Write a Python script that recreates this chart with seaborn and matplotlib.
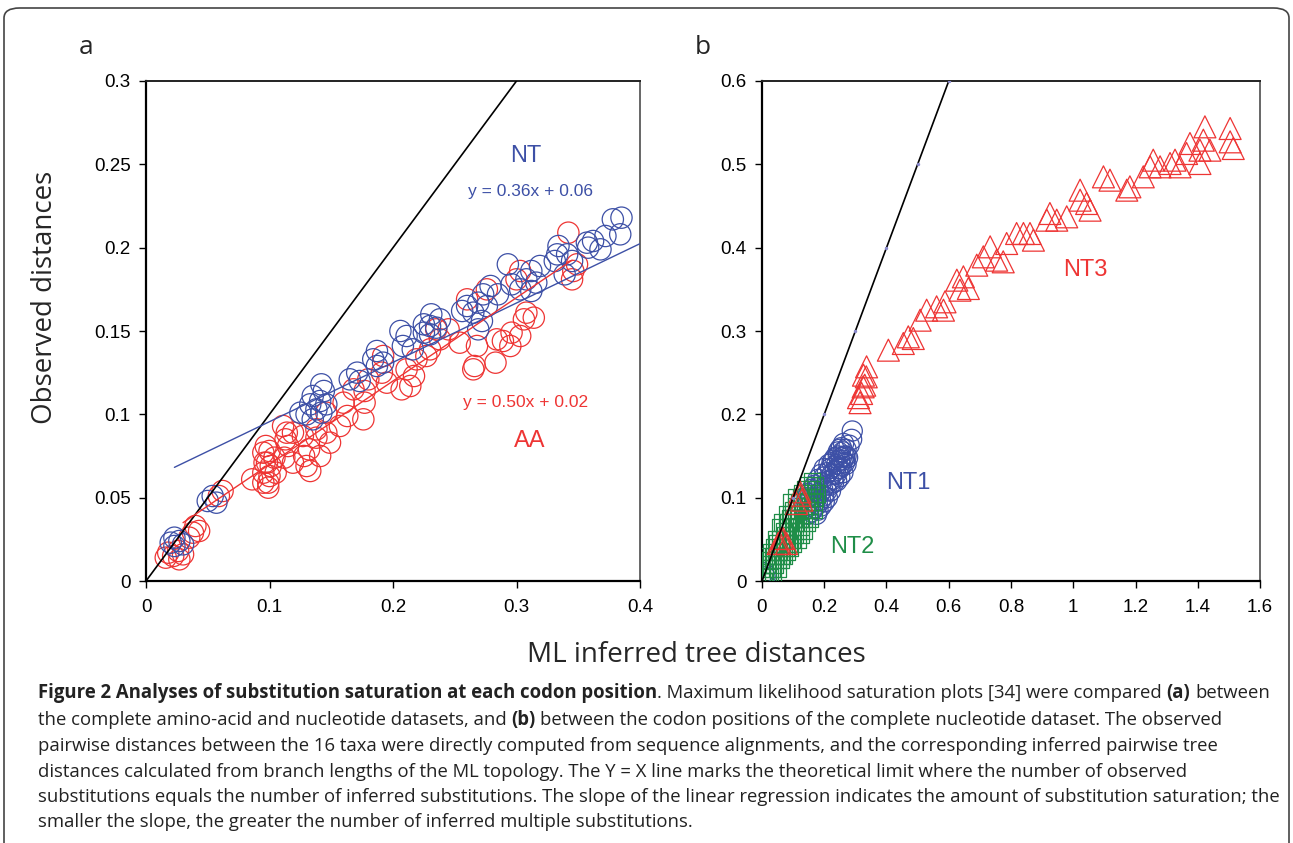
import numpy as np
import pandas as pd
import matplotlib
matplotlib.use("Agg")
import matplotlib.pyplot as plt
import seaborn as sns
from matplotlib import font_manager
from matplotlib.patches import FancyBboxPatch
from matplotlib.ticker import FuncFormatter, MultipleLocator

# ---- panel a: amino-acid vs nucleotide ----
nt_x = [0.385, 0.384, 0.372, 0.362, 0.358, 0.368, 0.334, 0.333, 0.341, 0.345,
        0.331, 0.339, 0.319, 0.312, 0.293, 0.308, 0.316, 0.312, 0.303, 0.296,
        0.279, 0.285, 0.273, 0.269, 0.260, 0.256, 0.265, 0.276, 0.269, 0.272,
        0.231, 0.230, 0.235, 0.225, 0.238, 0.230, 0.225, 0.211, 0.206, 0.208,
        0.216, 0.187, 0.184, 0.192, 0.187, 0.171, 0.165, 0.173, 0.142, 0.144,
        0.135, 0.141, 0.133, 0.138, 0.125, 0.130, 0.142, 0.135, 0.146, 0.054,
        0.050, 0.057, 0.023, 0.027, 0.020, 0.030, 0.023, 0.357, 0.378]
nt_y = [0.218, 0.208, 0.207, 0.204, 0.200, 0.199, 0.201, 0.196, 0.196, 0.192,
        0.192, 0.184, 0.189, 0.186, 0.190, 0.181, 0.179, 0.174, 0.175, 0.178,
        0.177, 0.172, 0.172, 0.167, 0.165, 0.162, 0.161, 0.165, 0.151, 0.156,
        0.160, 0.153, 0.152, 0.154, 0.157, 0.148, 0.149, 0.147, 0.150, 0.141,
        0.139, 0.138, 0.133, 0.131, 0.129, 0.125, 0.121, 0.120, 0.118, 0.114,
        0.111, 0.108, 0.106, 0.103, 0.101, 0.100, 0.101, 0.097, 0.106, 0.051,
        0.048, 0.047, 0.026, 0.024, 0.023, 0.022, 0.021, 0.203, 0.217]

aa_x = [0.018, 0.022, 0.026, 0.016, 0.030, 0.027, 0.040, 0.038, 0.043, 0.035,
        0.062, 0.059, 0.086, 0.095, 0.099, 0.095, 0.100, 0.096, 0.101, 0.095,
        0.100, 0.097, 0.104, 0.105, 0.112, 0.119, 0.113, 0.119, 0.130, 0.132,
        0.138, 0.111, 0.098, 0.099, 0.114, 0.115, 0.127, 0.138, 0.128, 0.141,
        0.133, 0.146, 0.149, 0.146, 0.160, 0.163, 0.157, 0.176, 0.177, 0.177,
        0.168, 0.180, 0.191, 0.192, 0.195, 0.211, 0.214, 0.207, 0.217, 0.219,
        0.230, 0.235, 0.342, 0.346, 0.345, 0.303, 0.300, 0.308, 0.314, 0.306,
        0.303, 0.296, 0.289, 0.295, 0.284, 0.283, 0.266, 0.265, 0.268, 0.254,
        0.260, 0.276, 0.227, 0.238, 0.245, 0.349]
aa_y = [0.017, 0.015, 0.018, 0.014, 0.016, 0.013, 0.033, 0.029, 0.030, 0.026,
        0.054, 0.051, 0.061, 0.059, 0.056, 0.065, 0.063, 0.071, 0.069, 0.077,
        0.078, 0.081, 0.074, 0.065, 0.074, 0.071, 0.085, 0.089, 0.069, 0.079,
        0.086, 0.093, 0.071, 0.059, 0.089, 0.081, 0.087, 0.091, 0.075, 0.075,
        0.066, 0.089, 0.083, 0.101, 0.107, 0.099, 0.093, 0.097, 0.107, 0.114,
        0.115, 0.121, 0.125, 0.135, 0.119, 0.127, 0.117, 0.115, 0.123, 0.133,
        0.139, 0.151, 0.209, 0.186, 0.181, 0.186, 0.181, 0.161, 0.158, 0.157,
        0.147, 0.149, 0.144, 0.141, 0.145, 0.131, 0.129, 0.127, 0.141, 0.143,
        0.169, 0.175, 0.135, 0.145, 0.151, 0.190]

# regression lines: slope, intercept, x-range
nt_fit = (0.356, 0.060, 0.023, 0.400)
aa_fit = (0.500, 0.020, 0.030, 0.345)

# ---- panel b: codon positions ----
nt1_x = [0.290, 0.288, 0.280, 0.270, 0.265, 0.260, 0.250, 0.255, 0.245, 0.240,
         0.235, 0.230, 0.225, 0.220, 0.215, 0.210, 0.205, 0.200, 0.195, 0.190,
         0.185, 0.180, 0.175, 0.170, 0.165, 0.160, 0.155, 0.150, 0.145, 0.140,
         0.275, 0.270, 0.260, 0.250, 0.240, 0.230, 0.220, 0.210, 0.200, 0.190,
         0.180, 0.175, 0.260, 0.250, 0.245, 0.255, 0.005, 0.010,
         0.215, 0.225, 0.235, 0.245, 0.255, 0.265, 0.270, 0.262, 0.250, 0.238,
         0.228, 0.218, 0.208, 0.198, 0.188, 0.178, 0.168, 0.158, 0.148, 0.200,
         0.190, 0.180, 0.170, 0.160, 0.150]
nt1_y = [0.180, 0.170, 0.163, 0.158, 0.150, 0.155, 0.145, 0.138, 0.150, 0.140,
         0.132, 0.145, 0.128, 0.135, 0.120, 0.130, 0.115, 0.125, 0.110, 0.118,
         0.105, 0.112, 0.100, 0.095, 0.108, 0.100, 0.090, 0.095, 0.100, 0.088,
         0.148, 0.140, 0.130, 0.125, 0.120, 0.118, 0.108, 0.100, 0.095, 0.090,
         0.085, 0.080, 0.145, 0.135, 0.155, 0.160, 0.010, 0.005,
         0.140, 0.142, 0.148, 0.135, 0.148, 0.142, 0.150, 0.165, 0.158, 0.128,
         0.122, 0.115, 0.108, 0.102, 0.097, 0.092, 0.088, 0.083, 0.080, 0.135,
         0.128, 0.122, 0.115, 0.110, 0.105]

nt2_x = [0.000, 0.005, 0.010, 0.020, 0.015, 0.025, 0.030, 0.035, 0.040, 0.040,
         0.045, 0.050, 0.050, 0.055, 0.060, 0.060, 0.065, 0.070, 0.070, 0.075,
         0.075, 0.080, 0.080, 0.085, 0.085, 0.090, 0.090, 0.095, 0.095, 0.100,
         0.100, 0.105, 0.105, 0.110, 0.110, 0.115, 0.115, 0.120, 0.120, 0.125,
         0.125, 0.130, 0.130, 0.135, 0.140, 0.140, 0.145, 0.150, 0.155, 0.160,
         0.165, 0.170, 0.170, 0.020, 0.030, 0.045, 0.060, 0.065, 0.080, 0.095,
         0.110, 0.150, 0.000, 0.010,
         0.175, 0.165, 0.155, 0.145, 0.135, 0.125, 0.115, 0.100, 0.090, 0.080,
         0.070, 0.060, 0.050, 0.035, 0.025, 0.160, 0.140, 0.130]
nt2_y = [0.005, 0.000, 0.010, 0.010, 0.020, 0.025, 0.015, 0.030, 0.020, 0.040,
         0.030, 0.045, 0.025, 0.035, 0.050, 0.040, 0.030, 0.060, 0.045, 0.055,
         0.040, 0.065, 0.050, 0.045, 0.070, 0.060, 0.075, 0.050, 0.080, 0.065,
         0.085, 0.055, 0.075, 0.090, 0.070, 0.060, 0.080, 0.095, 0.075, 0.065,
         0.100, 0.085, 0.105, 0.075, 0.095, 0.110, 0.085, 0.100, 0.090, 0.110,
         0.095, 0.100, 0.115, 0.030, 0.035, 0.050, 0.065, 0.070, 0.080, 0.095,
         0.100, 0.115, 0.015, 0.000,
         0.105, 0.085, 0.075, 0.070, 0.060, 0.055, 0.050, 0.045, 0.040, 0.035,
         0.030, 0.025, 0.015, 0.010, 0.005, 0.120, 0.100, 0.095]

nt3_x = [0.052, 0.058, 0.063, 0.068, 0.079, 0.111, 0.122, 0.128, 0.122,
         0.310, 0.315, 0.320, 0.325, 0.330, 0.335, 0.326, 0.336, 0.406, 0.454,
         0.470, 0.486, 0.508, 0.529, 0.561, 0.583, 0.588, 0.626, 0.636, 0.647,
         0.663, 0.690, 0.711, 0.733, 0.754, 0.775, 0.786, 0.818, 0.840, 0.861,
         0.872, 0.915, 0.925, 0.947, 0.979, 1.022, 1.022, 1.043, 1.054, 1.097,
         1.118, 1.172, 1.182, 1.225, 1.247, 1.257, 1.279, 1.311, 1.327, 1.343,
         1.364, 1.375, 1.407, 1.407, 1.418, 1.423, 1.439, 1.504, 1.504, 1.514]
nt3_y = [0.045, 0.045, 0.051, 0.051, 0.045, 0.093, 0.103, 0.097, 0.107,
         0.220, 0.214, 0.225, 0.233, 0.235, 0.245, 0.247, 0.257, 0.277, 0.285,
         0.293, 0.291, 0.313, 0.325, 0.329, 0.325, 0.335, 0.361, 0.349, 0.365,
         0.351, 0.379, 0.389, 0.401, 0.385, 0.383, 0.405, 0.417, 0.417, 0.417,
         0.409, 0.433, 0.441, 0.433, 0.437, 0.469, 0.457, 0.453, 0.445, 0.485,
         0.481, 0.469, 0.473, 0.485, 0.497, 0.505, 0.497, 0.501, 0.505, 0.497,
         0.513, 0.525, 0.517, 0.501, 0.529, 0.545, 0.517, 0.543, 0.527, 0.519]

identity_pts = [0.1, 0.2, 0.3, 0.4, 0.5, 0.6]

BLUE = "#3D50A6"
RED = "#EE3534"
GREEN = "#1F8E48"

W, H = 1293, 843
sns.set_style("ticks")
plt.rcParams["font.family"] = ["Liberation Sans", "DejaVu Sans"]

fig = plt.figure(figsize=(W / 100, H / 100), dpi=100)


def px_axes(x0, y0, x1, y1):
    return fig.add_axes([x0 / W, 1 - y1 / H, (x1 - x0) / W, (y1 - y0) / H])


def style_axes(ax):
    for side in ["left", "bottom"]:
        ax.spines[side].set_linewidth(1.6)
        ax.spines[side].set_color("black")
    ax.spines["top"].set_linewidth(1.4)
    ax.spines["top"].set_color("#222222")
    ax.spines["right"].set_linewidth(1.4)
    ax.spines["right"].set_color("#666666")
    ax.tick_params(axis="both", direction="out", length=5, width=1.0,
                   labelsize=13.5, colors="black", top=False, right=False)
    ax.tick_params(axis="x", pad=8)
    ax.tick_params(axis="y", pad=6)
    fmt = FuncFormatter(lambda v, p: "%g" % round(v, 4))
    ax.xaxis.set_major_formatter(fmt)
    ax.yaxis.set_major_formatter(fmt)
    ax.set_xlabel("")
    ax.set_ylabel("")


def hollow(ax, x, y, marker, size, color, z=3):
    sns.scatterplot(x=x, y=y, ax=ax, marker=marker, s=size,
                    facecolors="none", edgecolor=color, linewidth=0.9,
                    legend=False, zorder=z)


# panel a
ax1 = px_axes(146, 81, 640, 581)
ax1.plot([0, 0.3], [0, 0.3], color="black", lw=1.2, zorder=4)
hollow(ax1, aa_x, aa_y, "o", 235, RED)
hollow(ax1, nt_x, nt_y, "o", 235, BLUE)
for (m, b, lo, hi), c in [(nt_fit, BLUE), (aa_fit, RED)]:
    xs = np.array([lo, hi])
    ax1.plot(xs, m * xs + b, color=c, lw=1.0, zorder=5)
ax1.set_xlim(0, 0.4)
ax1.set_ylim(0, 0.3)
ax1.xaxis.set_major_locator(MultipleLocator(0.1))
ax1.yaxis.set_major_locator(MultipleLocator(0.05))
style_axes(ax1)
ax1.text(0.3075, 0.255, "NT", color=BLUE, fontsize=17, ha="center", va="center")
ax1.text(0.3115, 0.2335, "y = 0.36x + 0.06", color=BLUE, fontsize=12.5,
         ha="center", va="center")
ax1.text(0.307, 0.107, "y = 0.50x + 0.02", color=RED, fontsize=12.5,
         ha="center", va="center")
ax1.text(0.311, 0.084, "AA", color=RED, fontsize=17, ha="center", va="center")

# panel b
ax2 = px_axes(762, 81, 1260, 581)
ax2.plot([0, 0.6], [0, 0.6], color="black", lw=1.2, zorder=6)
sns.scatterplot(x=identity_pts, y=identity_pts, ax=ax2, s=6, color="#8888cc",
                linewidth=0, legend=False, zorder=7)
hollow(ax2, nt1_x, nt1_y, "o", 210, BLUE, 3)
hollow(ax2, nt2_x, nt2_y, "s", 140, GREEN, 4)
hollow(ax2, nt3_x, nt3_y, "^", 250, RED, 5)
ax2.set_xlim(0, 1.6)
ax2.set_ylim(0, 0.6)
ax2.xaxis.set_major_locator(MultipleLocator(0.2))
ax2.yaxis.set_major_locator(MultipleLocator(0.1))
style_axes(ax2)
ax2.text(0.47, 0.118, "NT1", color=BLUE, fontsize=17, ha="center", va="center")
ax2.text(0.29, 0.041, "NT2", color=GREEN, fontsize=17, ha="center", va="center")
ax2.text(1.04, 0.373, "NT3", color=RED, fontsize=17, ha="center", va="center")

# labels
label_font = ["Open Sans", "DejaVu Sans"]
fig.text(86 / W, 1 - 47 / H, "a", fontsize=19, family=label_font,
         ha="center", va="center")
fig.text(703 / W, 1 - 47 / H, "b", fontsize=19, family=label_font,
         ha="center", va="center")
fig.text(696 / W, 1 - 655 / H, "ML inferred tree distances", fontsize=20,
         family=label_font, ha="center", va="center")
fig.text(45 / W, 1 - 297 / H, "Observed distances", fontsize=20,
         family=label_font, rotation=90, ha="center", va="center")

# outer frame
frame = FancyBboxPatch((4 / W, -0.05), 1285 / W, (H - 8) / H + 0.05,
                       boxstyle="round,pad=0,rounding_size=0.012",
                       transform=fig.transFigure, fill=False,
                       edgecolor="#444444", linewidth=1.2)
fig.patches.append(frame)

# caption
caption = [
    [("Figure 2 Analyses of substitution saturation at each codon position", "bold"),
     (". Maximum likelihood saturation plots [34] were compared", "normal"),
     ("(a)", "bold"), ("between", "normal")],
    [("the complete amino-acid and nucleotide datasets, and", "normal"),
     ("(b)", "bold"),
     ("between the codon positions of the complete nucleotide dataset. The observed", "normal")],
    [("pairwise distances between the 16 taxa were directly computed from sequence alignments, and the corresponding inferred pairwise tree", "normal")],
    [("distances calculated from branch lengths of the ML topology. The Y = X line marks the theoretical limit where the number of observed", "normal")],
    [("substitutions equals the number of inferred substitutions. The slope of the linear regression indicates the amount of substitution saturation; the", "normal")],
    [("smaller the slope, the greater the number of inferred multiple substitutions.", "normal")],
]
caption_y = [693, 720, 746, 772, 797, 822]

names = {f.name for f in font_manager.fontManager.ttflist}
cap_font = "Liberation Sans Narrow" if "Liberation Sans Narrow" in names else "Open Sans"
renderer = fig.canvas.get_renderer()


def text_width(s, size, weight):
    t = fig.text(0, 0, s, fontsize=size, fontweight=weight, family=cap_font)
    w = t.get_window_extent(renderer).width
    t.remove()
    return w


def line_width(segs, size):
    gap = text_width("x x", size, "normal") - text_width("xx", size, "normal")
    total = sum(text_width(s, size, wt) for s, wt in segs)
    return total + gap * (len(segs) - 1)


cap_size = 10 * 1240 / line_width(caption[0], 10)
gap = text_width("x x", cap_size, "normal") - text_width("xx", cap_size, "normal")
for segs, yy in zip(caption, caption_y):
    x = 38
    for i, (s, wt) in enumerate(segs):
        if i > 0 and not s.startswith("."):
            x += gap
        t = fig.text(x / W, 1 - yy / H, s, fontsize=cap_size, fontweight=wt,
                     family=cap_font, ha="left", va="center", color="#222222")
        x = t.get_window_extent(renderer).x1

fig.savefig("out.png", dpi=100)
